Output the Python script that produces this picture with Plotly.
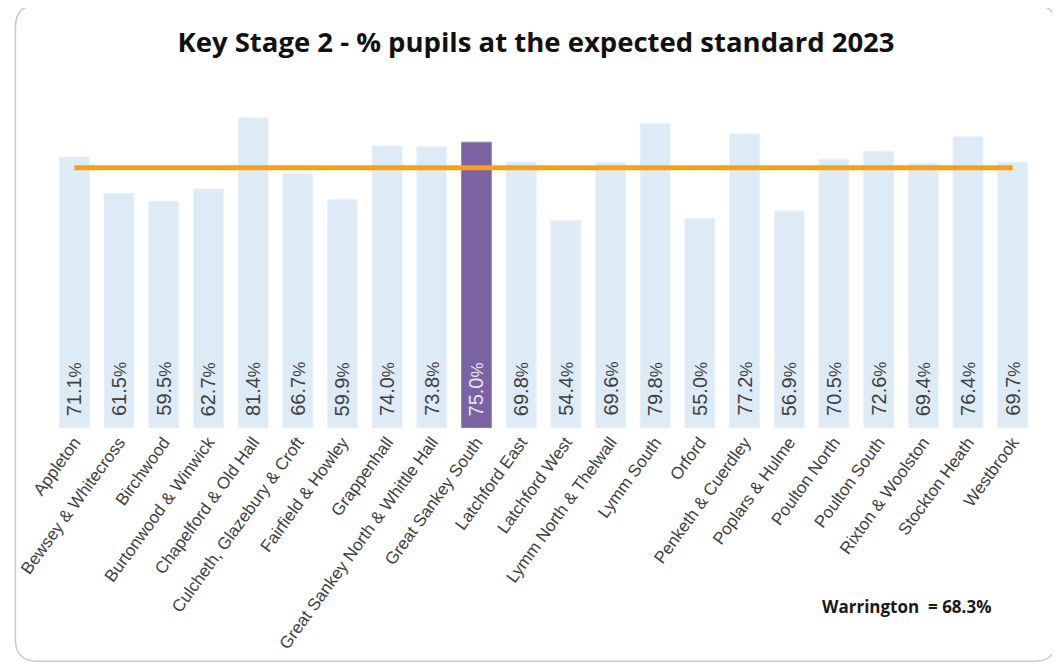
import plotly.graph_objects as go

wards = ["Appleton", "Bewsey & Whitecross", "Birchwood", "Burtonwood & Winwick",
         "Chapelford & Old Hall", "Culcheth, Glazebury & Croft", "Fairfield & Howley",
         "Grappenhall", "Great Sankey North & Whittle Hall", "Great Sankey South",
         "Latchford East", "Latchford West", "Lymm North & Thelwall", "Lymm South",
         "Orford", "Penketh & Cuerdley", "Poplars & Hulme", "Poulton North",
         "Poulton South", "Rixton & Woolston", "Stockton Heath", "Westbrook"]
values = [71.1, 61.5, 59.5, 62.7, 81.4, 66.7, 59.9, 74.0, 73.8, 75.0, 69.8, 54.4,
          69.6, 79.8, 55.0, 77.2, 56.9, 70.5, 72.6, 69.4, 76.4, 69.7]
highlight = "Great Sankey South"
warrington = 68.3
title_text = "Key Stage 2 - % pupils at the expected standard 2023"

# page body has an 8px margin; the figure is sized to fit the window exactly
OFF = 8
W, H = 1060 - OFF, 667 - OFF
L, R, T, B = 51.6 - OFF, 1035.4 - OFF, 85 - OFF, 428.5 - OFF
y_max = 90

bar_colors = ["#7B63A3" if w == highlight else "#DDEBF7" for w in wards]
line_colors = ["#9C88BE" if w == highlight else "#E8F1FA" for w in wards]

fig = go.Figure()
fig.add_trace(go.Bar(x=wards, y=values, marker=dict(color=bar_colors,
                     line=dict(color=line_colors, width=1)),
                     hoverinfo="x+y", showlegend=False))
fig.add_trace(go.Scatter(x=wards, y=[warrington] * len(wards), mode="lines",
                         line=dict(color="#F5A01A", width=5),
                         showlegend=False, hoverinfo="skip"))

for w, v in zip(wards, values):
    col = "#ECE6F5" if w == highlight else "#404040"
    fig.add_annotation(x=w, y=0, xref="x", yref="y",
                       text=f"{v:.1f}<span style='font-size:17px'>%</span>",
                       textangle=-90, showarrow=False, yanchor="bottom",
                       xanchor="center", yshift=10,
                       font=dict(family="Liberation Sans, Arial", size=20, color=col))


def px(x):
    return (x - OFF - L) / (R - L)


def py(y):
    return (B - (y - OFF)) / (B - T)


fig.add_annotation(x=px(820), y=py(607), xref="paper", yref="paper",
                   text="<b>Warrington  = 68.3%</b>", showarrow=False,
                   font=dict(family="Open Sans", size=17, color="#1a1a1a"),
                   xanchor="left", yanchor="middle")

# rounded border
x0, y0, x1, y1, r = 15, 5, 1057, 662, 22
path = (f"M {px(x0 + r)},{py(y0)} L {px(x1 - r)},{py(y0)} "
        f"Q {px(x1)},{py(y0)} {px(x1)},{py(y0 + r)} "
        f"L {px(x1)},{py(y1 - r)} Q {px(x1)},{py(y1)} {px(x1 - r)},{py(y1)} "
        f"L {px(x0 + r)},{py(y1)} Q {px(x0)},{py(y1)} {px(x0)},{py(y1 - r)} "
        f"L {px(x0)},{py(y0 + r)} Q {px(x0)},{py(y0)} {px(x0 + r)},{py(y0)} Z")
fig.add_shape(type="path", path=path, xref="paper", yref="paper",
              line=dict(color="#C9C9C9", width=1.5), layer="below")

fig.update_layout(
    width=W, height=H,
    margin=dict(l=L, r=W - R, t=T, b=H - B, pad=0, autoexpand=False),
    paper_bgcolor="white", plot_bgcolor="white",
    bargap=0.33,
    title=dict(text=f"<b>{title_text}</b>", x=(536 - OFF) / W, xanchor="center",
               y=1 - (42 - OFF) / H, yanchor="middle", xref="container", yref="container",
               font=dict(family="Open Sans", size=27.5, color="#111111")),
    xaxis=dict(tickangle=-54, showgrid=False, showline=False, ticks="",
               automargin=False,
               tickfont=dict(family="Liberation Sans, Arial", size=17, color="#404040")),
    yaxis=dict(range=[0, y_max], visible=False, showgrid=False, zeroline=False,
               automargin=False),
)

fig.write_html("out.html")
